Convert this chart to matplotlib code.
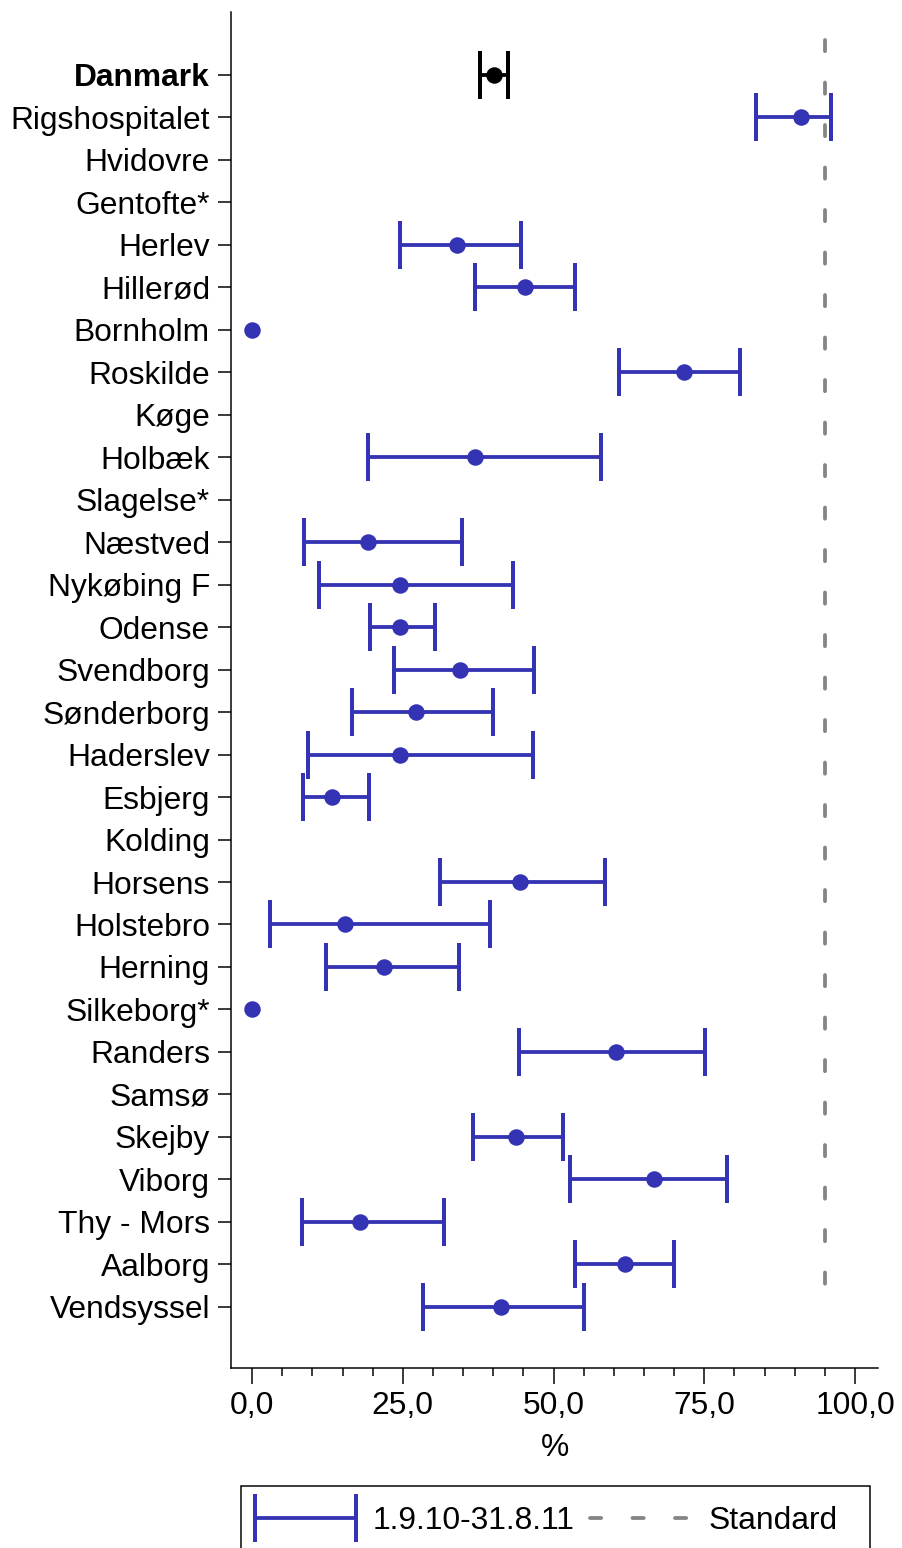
import numpy as np
import matplotlib
matplotlib.use("Agg")
import matplotlib.pyplot as plt
from matplotlib.patches import Rectangle
from matplotlib.legend_handler import HandlerErrorbar

plt.rcParams['font.family'] = ['Liberation Sans', 'DejaVu Sans']
plt.rcParams['lines.scale_dashes'] = False

hospitals = ['Danmark', 'Rigshospitalet', 'Hvidovre', 'Gentofte*', 'Herlev', 'Hillerød',
             'Bornholm', 'Roskilde', 'Køge', 'Holbæk', 'Slagelse*', 'Næstved', 'Nykøbing F',
             'Odense', 'Svendborg', 'Sønderborg', 'Haderslev', 'Esbjerg', 'Kolding', 'Horsens',
             'Holstebro', 'Herning', 'Silkeborg*', 'Randers', 'Samsø', 'Skejby', 'Viborg',
             'Thy - Mors', 'Aalborg', 'Vendsyssel']
nan = np.nan
estimate = [40.1, 91.0, nan, nan, 34.0, 45.2, 0.0, 71.7, nan, 37.0, nan, 19.2, 24.6,
            24.5, 34.4, 27.2, 24.6, 13.2, nan, 44.5, 15.4, 21.9, 0.0, 60.4, nan, 43.8,
            66.7, 17.9, 61.9, 41.2]
ci_low = [37.8, 83.5, nan, nan, 24.6, 36.9, nan, 60.9, nan, 19.2, nan, 8.6, 11.1,
          19.6, 23.5, 16.5, 9.3, 8.4, nan, 31.1, 3.0, 12.3, nan, 44.3, nan, 36.6,
          52.8, 8.3, 53.6, 28.4]
ci_high = [42.5, 96.0, nan, nan, 44.6, 53.6, nan, 80.9, nan, 57.9, nan, 34.8, 43.2,
           30.3, 46.8, 40.0, 46.6, 19.4, nan, 58.5, 39.4, 34.3, nan, 75.1, nan, 51.5,
           78.8, 31.8, 70.0, 55.0]
standard = 95
period_label = '1.9.10-31.8.11'
x_ticks = [0, 25, 50, 75, 100]
x_tick_labels = ['0,0', '25,0', '50,0', '75,0', '100,0']

blue = '#3333b3'
grey = '#858585'
fs = 31.8

est = np.array(estimate)
lo = np.array(ci_low)
hi = np.array(ci_high)
ypos = np.arange(len(hospitals))

fig = plt.figure(figsize=(902 / 72, 1548 / 72), dpi=72)
ax = fig.add_axes([231 / 902, 1 - 1368 / 1548, (878 - 231) / 902, (1368 - 12) / 1548])

# national total in black, hospitals in blue
has_ci = ~np.isnan(lo)
nat = np.zeros(len(hospitals), bool)
nat[0] = True
eb_kw = dict(fmt='none', elinewidth=3.8, capsize=24, capthick=4, zorder=3)
ax.errorbar(est[nat], ypos[nat], xerr=[est[nat] - lo[nat], hi[nat] - est[nat]],
            ecolor='black', **eb_kw)
ax.plot(est[nat], ypos[nat], 'o', color='black', ms=16.5, mew=0, zorder=4)
m = has_ci & ~nat
eb = ax.errorbar(est[m], ypos[m], xerr=[est[m] - lo[m], hi[m] - est[m]],
                 ecolor=blue, **eb_kw)
m = ~np.isnan(est) & ~nat
ax.plot(est[m], ypos[m], 'o', color=blue, ms=16.5, mew=0, zorder=4)

std_line, = ax.plot([standard, standard], [-0.83, 28.98], color=grey, lw=3.8,
                    dashes=(11.2, 31.3), dash_capstyle='round', zorder=2)

ax.set_xlim(-3.5, 103.8)
ax.set_ylim(30.44, -1.48)
ax.set_yticks(ypos)
ax.set_yticklabels(hospitals, fontsize=fs)
ax.get_yticklabels()[0].set_fontweight('bold')
ax.set_xticks(x_ticks)
ax.set_xticklabels(x_tick_labels, fontsize=fs)
ax.set_xticks(np.arange(0, 101, 5), minor=True)
ax.set_xlabel('%', fontsize=fs, labelpad=12)

for s in ['top', 'right']:
    ax.spines[s].set_visible(False)
for s in ['left', 'bottom']:
    ax.spines[s].set_linewidth(1.5)
ax.tick_params(axis='y', length=13, width=1.5, pad=8)
ax.tick_params(axis='x', which='major', length=16, width=1.5, pad=7)
ax.tick_params(axis='x', which='minor', length=8, width=1.5)

# legend box runs off the bottom edge of the figure
fig.patches.append(Rectangle((241 / 902, -0.02), (870 - 241) / 902, 0.02 + 62 / 1548,
                             transform=fig.transFigure, fill=False, ec='black', lw=1.5))
fig.legend([eb, std_line], [period_label, 'Standard'], loc='center left',
           bbox_to_anchor=(255 / 902, 1 - 1521 / 1548), ncol=2, fontsize=fs,
           frameon=False, borderaxespad=0, borderpad=0, handlelength=3.17,
           handletextpad=0.54, columnspacing=0.48,
           handler_map={type(eb): HandlerErrorbar(xerr_size=1.585)})

fig.savefig('out.png', dpi=72)
